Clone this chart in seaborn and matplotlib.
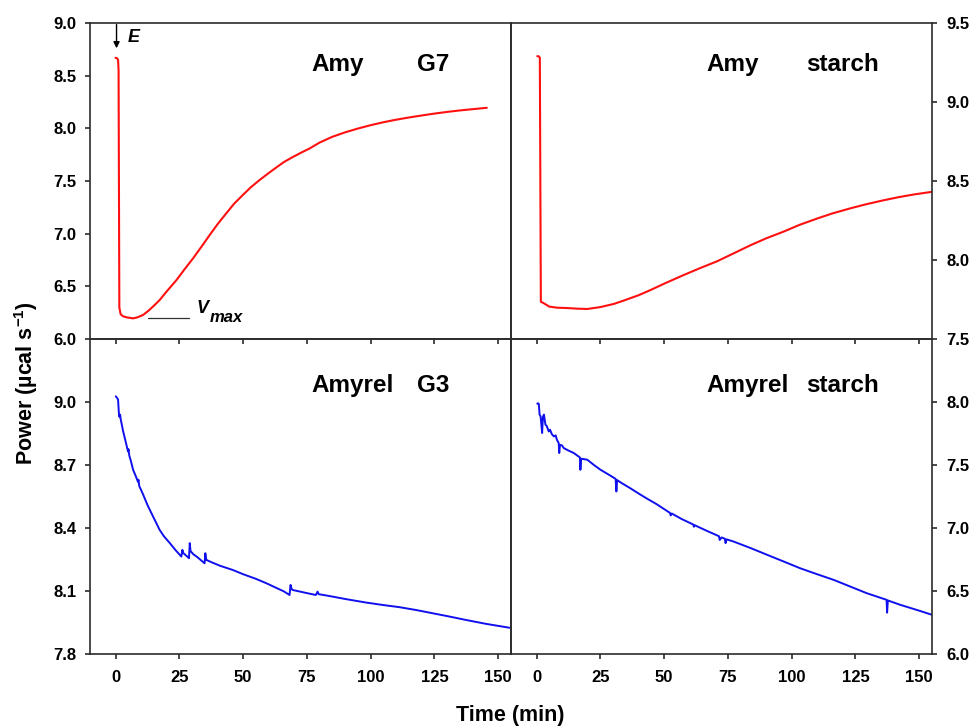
import matplotlib
matplotlib.use('Agg')
import matplotlib.pyplot as plt
from matplotlib.ticker import FormatStrFormatter
import seaborn as sns

sns.set_theme(style='ticks')
plt.rcParams['font.family'] = ['Liberation Sans', 'DejaVu Sans']
plt.rcParams['font.weight'] = 'bold'
plt.rcParams['mathtext.fontset'] = 'custom'
plt.rcParams['mathtext.rm'] = 'Liberation Sans:bold'
plt.rcParams['mathtext.bf'] = 'Liberation Sans:bold'
plt.rcParams['mathtext.it'] = 'Liberation Sans:bold:italic'

# ---------------- data ----------------
amy_g7_time = [0, 0.6, 1.0, 1.2, 1.5, 2.0, 3.0, 4.5, 6.9, 8.5, 10.8, 13.0, 15.0, 17.3, 20.0,
               23.9, 27.0, 30.4, 33.5, 36.9, 40.0, 43.4, 46.5, 49.9, 53.0, 56.5, 60.0, 63.0,
               66.0, 69.5, 73.0, 76.0, 80.0, 85.0, 90.0, 95.0, 100.0, 105.0, 110.0, 115.0,
               120.0, 125.0, 130.0, 135.0, 140.0, 145.5]
amy_g7_power = [8.67, 8.665, 8.65, 8.55, 6.30, 6.235, 6.215, 6.205, 6.196, 6.205, 6.228, 6.27,
                6.315, 6.37, 6.45, 6.56, 6.66, 6.766, 6.87, 6.987, 7.09, 7.193, 7.285, 7.367,
                7.44, 7.51, 7.575, 7.628, 7.68, 7.728, 7.772, 7.808, 7.865, 7.92, 7.962, 7.998,
                8.03, 8.058, 8.082, 8.103, 8.122, 8.14, 8.156, 8.17, 8.182, 8.195]

amy_starch_time = [0.3, 0.8, 1.3, 1.5, 1.7, 3.0, 5.0, 8.1, 12.0, 16.0, 19.9, 25.0, 30.3, 35.0,
                   40.0, 44.7, 50.0, 57.7, 64.0, 70.8, 77.0, 83.8, 90.0, 96.9, 103.0, 109.9,
                   116.0, 123.0, 129.0, 136.0, 142.0, 148.0, 155.2]
amy_starch_power = [9.29, 9.29, 9.28, 8.5, 7.736, 7.725, 7.705, 7.698, 7.696, 7.692, 7.690,
                    7.702, 7.722, 7.748, 7.777, 7.81, 7.85, 7.905, 7.948, 7.992, 8.04, 8.093,
                    8.137, 8.18, 8.222, 8.262, 8.295, 8.327, 8.352, 8.378, 8.398, 8.415, 8.432]

amyrel_g3_time = [0.1, 0.6, 1.0, 1.3, 1.5, 1.8, 2.0, 3.0, 4.0, 4.9, 5.1, 5.4, 6.0, 6.9, 8.0,
                  8.8, 9.0, 9.3, 10.8, 12.5, 14.7, 17.3, 19.0, 21.3, 23.5, 25.8, 26.2, 26.6,
                  27.1, 28.0, 28.8, 29.1, 29.4, 30.5, 32.0, 34.9, 35.2, 35.6, 38.0, 41.0, 46.0,
                  50.0, 55.0, 59.1, 63.0, 66.0, 68.2, 68.6, 69.0, 69.4, 72.0, 75.0, 78.5, 79.2,
                  79.6, 82.0, 85.2, 90.0, 98.2, 105.0, 111.3, 118.0, 124.3, 131.0, 137.4,
                  145.0, 154.4]
amyrel_g3_power = [9.027, 9.02, 9.011, 8.95, 8.93, 8.94, 8.92, 8.86, 8.81, 8.764, 8.775, 8.745,
                   8.72, 8.677, 8.645, 8.62, 8.63, 8.60, 8.56, 8.51, 8.455, 8.391, 8.36, 8.328,
                   8.295, 8.264, 8.296, 8.28, 8.275, 8.265, 8.256, 8.328, 8.29, 8.275, 8.262,
                   8.232, 8.28, 8.248, 8.235, 8.22, 8.20, 8.18, 8.158, 8.137, 8.115, 8.098,
                   8.081, 8.129, 8.11, 8.105, 8.098, 8.09, 8.081, 8.097, 8.085, 8.08, 8.073,
                   8.062, 8.045, 8.033, 8.023, 8.009, 7.994, 7.978, 7.962, 7.944, 7.925]

amyrel_starch_time = [0.3, 0.6, 0.9, 1.2, 1.6, 2.0, 2.2, 2.5, 2.9, 3.5, 4.0, 4.8, 5.3, 6.0,
                      6.8, 7.5, 8.0, 8.7, 8.9, 9.2, 10.0, 10.7, 12.5, 14.6, 17.0, 17.2, 17.5,
                      19.9, 22.5, 25.1, 29.0, 31.0, 31.3, 31.6, 33.5, 36.8, 40.7, 43.4, 47.0,
                      52.3, 52.6, 53.0, 57.0, 61.4, 61.7, 62.0, 67.0, 71.5, 71.8, 72.5, 73.8,
                      74.1, 74.5, 77.3, 84.0, 90.4, 97.0, 103.4, 110.0, 116.5, 123.0, 129.5,
                      137.2, 137.4, 137.7, 142.6, 149.0, 155.2]
amyrel_starch_power = [7.987, 7.99, 7.985, 7.90, 7.886, 7.80, 7.754, 7.88, 7.90, 7.82, 7.81,
                       7.766, 7.78, 7.745, 7.727, 7.735, 7.70, 7.674, 7.595, 7.66, 7.655,
                       7.634, 7.615, 7.595, 7.56, 7.462, 7.55, 7.542, 7.50, 7.462, 7.415, 7.39,
                       7.29, 7.38, 7.355, 7.315, 7.265, 7.232, 7.19, 7.12, 7.10, 7.115, 7.07,
                       7.028, 7.01, 7.022, 6.975, 6.935, 6.905, 6.925, 6.915, 6.88, 6.91, 6.892,
                       6.84, 6.787, 6.733, 6.68, 6.633, 6.588, 6.535, 6.482, 6.43, 6.328, 6.425,
                       6.39, 6.35, 6.31]

x_ticks = [0, 25, 50, 75, 100, 125, 150]
yt_tl = [6.0, 6.5, 7.0, 7.5, 8.0, 8.5, 9.0]
yt_tr = [7.5, 8.0, 8.5, 9.0, 9.5]
yt_bl = [7.8, 8.1, 8.4, 8.7, 9.0]
yt_br = [6.0, 6.5, 7.0, 7.5, 8.0]

RED = '#ff1010'
BLUE = '#1010ee'
SPINE = '#2b2b2b'

# ---------------- figure ----------------
W, H = 971, 728
fig = plt.figure(figsize=(W / 100, H / 100), dpi=100)


def add(l, t, r, b):
    ax = fig.add_axes([l / W, 1 - b / H, (r - l) / W, (b - t) / H])
    ax.set_facecolor('none')
    return ax


ax_tl = add(90, 23, 511, 339)
ax_tr = add(511, 23, 932, 339)
ax_bl = add(90, 339, 511, 654)
ax_br = add(511, 339, 932, 654)

series = [
    (ax_tl, amy_g7_time, amy_g7_power, RED, 1.5, (6.0, 9.0), yt_tl, 'left', False),
    (ax_tr, amy_starch_time, amy_starch_power, RED, 1.5, (7.5, 9.5), yt_tr, 'right', False),
    (ax_bl, amyrel_g3_time, amyrel_g3_power, BLUE, 1.4, (7.8, 9.3), yt_bl, 'left', True),
    (ax_br, amyrel_starch_time, amyrel_starch_power, BLUE, 1.4, (6.0, 8.5), yt_br, 'right', True),
]

for ax, t, p, col, lw, ylim, yt, side, xlab in series:
    sns.lineplot(x=t, y=p, ax=ax, color=col, linewidth=lw, estimator=None, sort=False,
                 legend=False)
    ax.set_xlim(-10, 155)
    ax.set_ylim(*ylim)
    ax.set_xticks(x_ticks)
    ax.set_yticks(yt)
    ax.yaxis.set_major_formatter(FormatStrFormatter('%.1f'))
    ax.set_xlabel('')
    ax.set_ylabel('')
    for s in ax.spines.values():
        s.set_visible(True)
        s.set_color(SPINE)
        s.set_linewidth(1.2)
    if side == 'right':
        ax.yaxis.tick_right()
        ax.tick_params(axis='y', left=False, right=True, labelleft=False, labelright=True,
                       pad=6.5)
    else:
        ax.tick_params(axis='y', left=True, right=False, labelleft=True, pad=6)
    ax.tick_params(axis='both', direction='out', length=3.8, width=1.2, color=SPINE,
                   labelsize=12, labelcolor='black')
    ax.tick_params(axis='x', bottom=True, top=False, labelbottom=xlab, pad=8)
    for lbl in ax.get_xticklabels() + ax.get_yticklabels():
        lbl.set_fontweight('bold')

# panel titles
title_kw = dict(fontsize=17.5, fontweight='bold', va='baseline', ha='left', color='black')
ax_tl.text(0.527, 0.849, 'Amy', transform=ax_tl.transAxes, **title_kw)
ax_tl.text(0.777, 0.849, 'G7', transform=ax_tl.transAxes, **title_kw)
ax_tr.text(0.465, 0.849, 'Amy', transform=ax_tr.transAxes, **title_kw)
ax_tr.text(0.702, 0.849, 'starch', transform=ax_tr.transAxes, **title_kw)
ax_bl.text(0.527, 0.833, 'Amyrel', transform=ax_bl.transAxes, **title_kw)
ax_bl.text(0.777, 0.833, 'G3', transform=ax_bl.transAxes, **title_kw)
ax_br.text(0.465, 0.833, 'Amyrel', transform=ax_br.transAxes, **title_kw)
ax_br.text(0.702, 0.833, 'starch', transform=ax_br.transAxes, **title_kw)

# annotations: enzyme injection arrow and Vmax marker
ax_tl.annotate('', xy=(0.4, 8.76), xytext=(0.4, 8.985),
               arrowprops=dict(arrowstyle='-|>', color='black', lw=1.0, mutation_scale=9,
                               shrinkA=0, shrinkB=0))
ax_tl.text(4.6, 8.86, 'E', fontsize=13, fontweight='bold', fontstyle='italic', va='center',
           ha='left', color='black')
vmax_line_x = [12.8, 28.8]
vmax_line_y = [6.202, 6.202]
ax_tl.plot(vmax_line_x, vmax_line_y, color='#333333', lw=0.9)
ax_tl.text(31.7, 6.244, 'V', fontsize=13, fontweight='bold', fontstyle='italic',
           va='baseline', ha='left', color='black')
ax_tl.text(36.9, 6.164, 'max', fontsize=12, fontweight='bold', fontstyle='italic',
           va='baseline', ha='left', color='black')

# axis labels
fig.text(26 / W, 1 - 383 / H, 'Power (µcal s$^{\\mathbf{-1}}$)', rotation=90, ha='center',
         va='center', fontsize=15.5, fontweight='bold', color='black')
fig.text(510 / W, 1 - 716 / H, 'Time (min)', ha='center', va='center', fontsize=15.5,
         fontweight='bold', color='black')

fig.savefig('out.png', dpi=100, facecolor='white')
